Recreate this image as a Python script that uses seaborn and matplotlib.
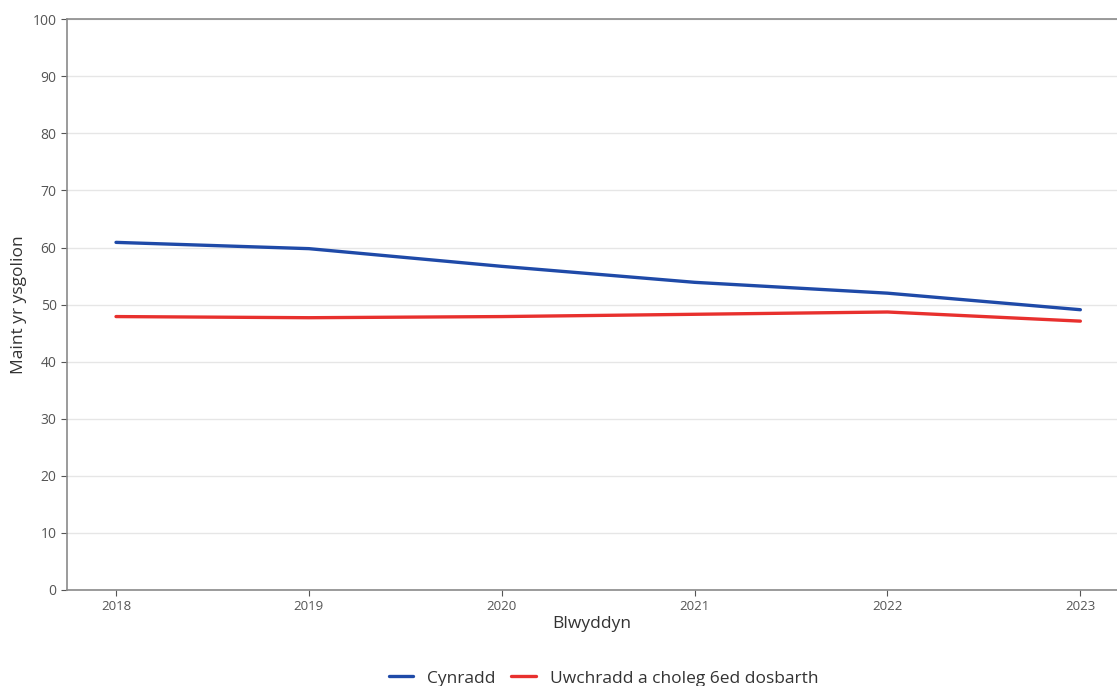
import pandas as pd
import matplotlib.pyplot as plt
import seaborn as sns

# Data
years = [2018, 2019, 2020, 2021, 2022, 2023]
cynradd = [60.9, 59.8, 56.7, 53.9, 52.0, 49.1]
uwchradd = [47.9, 47.7, 47.9, 48.3, 48.7, 47.1]
series_names = ["Cynradd", "Uwchradd a choleg 6ed dosbarth"]
colours = ["#1f4aa8", "#e8302e"]

df = pd.DataFrame({
    "Blwyddyn": years * 2,
    "Maint": cynradd + uwchradd,
    "Math": [series_names[0]] * len(years) + [series_names[1]] * len(years),
})

sns.set_style("white")
plt.rcParams["font.family"] = ["Open Sans", "DejaVu Sans"]

fig = plt.figure(figsize=(11.17, 6.86), dpi=100)
ax = fig.add_axes([0.06, 0.14, 0.94, 0.832])

sns.lineplot(data=df, x="Blwyddyn", y="Maint", hue="Math",
             palette=colours, linewidth=2.4, ax=ax, legend=True)

ax.set_xlim(2017.746, 2023.19)
ax.set_ylim(0, 100)
ax.set_yticks(range(0, 101, 10))
ax.set_xticks(years)
ax.set_xticklabels([str(y) for y in years])
ax.grid(axis="y", color="#e6e6e6", linewidth=1)
ax.grid(axis="x", visible=False)
ax.set_axisbelow(True)

for side in ["left", "bottom", "top"]:
    ax.spines[side].set_visible(True)
    ax.spines[side].set_color("#8a8a8a")
    ax.spines[side].set_linewidth(1.2)
ax.spines["right"].set_visible(False)

ax.tick_params(axis="both", length=4, color="#555555", labelcolor="#555555",
               labelsize=10, left=True, bottom=True)
ax.tick_params(axis="x", labelsize=9.5)

ax.set_xlabel("Blwyddyn", fontsize=12.5, color="#333333", labelpad=2)
ax.set_ylabel("Maint yr ysgolion", fontsize=12.5, color="#333333", labelpad=4)

handles, labels = ax.get_legend_handles_labels()
ax.legend(handles, labels, loc="center", bbox_to_anchor=(0.511, -0.155),
          ncol=2, frameon=False, fontsize=12.5, handlelength=1.4,
          columnspacing=0.9, handletextpad=0.8,
          labelcolor="#333333")

fig.savefig("out.png", dpi=100)
